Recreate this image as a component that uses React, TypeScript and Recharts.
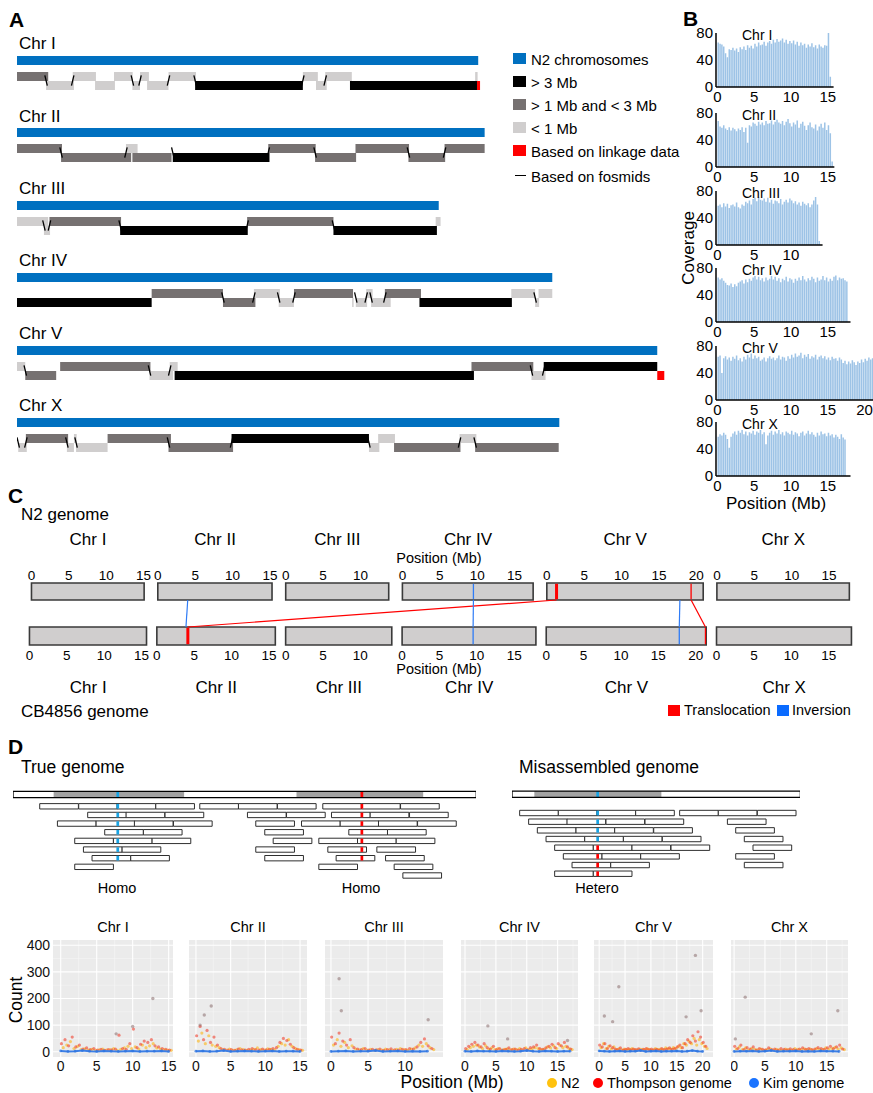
import React from "react";
import {
  Bar,
  BarChart,
  CartesianGrid,
  ComposedChart,
  ReferenceArea,
  ReferenceLine,
  Scatter,
  ScatterChart,
  XAxis,
  YAxis,
} from "recharts";

const FONT = '"Liberation Sans", Arial, Helvetica, sans-serif';

// ---------- A: assembled contigs along the N2 chromosomes ----------
const chrNames = ["Chr I", "Chr II", "Chr III", "Chr IV", "Chr V", "Chr X"];
const n2Lengths = [15.07, 15.28, 13.78, 17.49, 20.92, 17.72];

// start Mb, end Mb, row (0 top / 1 bottom), size class, fosmid joint at start
type Contig = [number, number, number, string, number];
const contigsI: Contig[] = [
  [0, 1.02, 0, "d", 0], [0.95, 1.86, 1, "l", 1], [1.82, 2.58, 0, "l", 1], [2.55, 3.2, 1, "l", 0],
  [3.17, 3.78, 0, "l", 0], [3.77, 4.02, 1, "l", 1], [4.02, 4.31, 0, "l", 1], [4.25, 4.95, 1, "l", 0],
  [4.95, 5.85, 0, "l", 1], [5.82, 9.34, 1, "k", 1], [9.34, 9.83, 0, "l", 1], [9.77, 10.12, 1, "l", 0],
  [10.07, 10.94, 0, "l", 1], [10.88, 15.03, 1, "k", 0], [14.97, 15.05, 0, "l", 0], [15.03, 15.13, 1, "r", 0],
];
const contigsII: Contig[] = [
  [0, 1.47, 0, "d", 0], [1.44, 3.73, 1, "d", 1], [3.56, 3.94, 0, "l", 1], [3.77, 5.05, 1, "d", 0],
  [5.09, 8.25, 1, "k", 1], [8.21, 9.76, 0, "d", 1], [9.74, 11.08, 1, "d", 1], [11.06, 12.81, 0, "d", 0],
  [12.79, 13.99, 1, "d", 1], [13.97, 15.28, 0, "d", 1],
];
const contigsIII: Contig[] = [
  [0, 1.02, 0, "l", 0], [0.88, 1.08, 1, "l", 1], [1.06, 3.4, 0, "d", 1], [3.37, 7.54, 1, "k", 1],
  [7.52, 10.34, 0, "d", 1], [10.34, 13.72, 1, "k", 1], [13.68, 13.84, 0, "l", 0],
];
const contigsIV: Contig[] = [
  [0, 4.4, 1, "k", 0], [4.4, 6.73, 0, "d", 0], [6.73, 7.79, 1, "d", 1], [7.74, 8.59, 0, "l", 1],
  [8.55, 9.05, 1, "l", 1], [9.05, 10.98, 0, "d", 1], [10.95, 11.0, 1, "l", 0], [11.07, 11.44, 1, "l", 1],
  [11.41, 11.62, 0, "l", 1], [11.57, 12.21, 1, "l", 1], [12.02, 13.2, 0, "d", 1], [13.15, 16.17, 1, "k", 0],
  [16.15, 16.93, 0, "l", 0], [16.93, 17.06, 1, "l", 1], [17.04, 17.49, 0, "l", 0],
];
const contigsV: Contig[] = [
  [0, 0.27, 0, "l", 0], [0.27, 1.28, 1, "d", 1], [1.41, 4.36, 0, "d", 0], [4.33, 5.1, 1, "l", 1],
  [4.99, 5.25, 0, "l", 1], [5.15, 14.93, 1, "k", 0], [14.85, 16.87, 0, "d", 0], [16.81, 17.27, 1, "l", 1],
  [17.21, 20.92, 0, "k", 1], [20.92, 21.15, 1, "r", 0],
];
const contigsX: Contig[] = [
  [0.04, 0.32, 1, "l", 1], [0.29, 1.67, 0, "d", 1], [1.63, 1.86, 1, "l", 1], [1.86, 1.95, 0, "l", 0],
  [1.93, 2.96, 1, "l", 1], [2.96, 5.03, 0, "d", 0], [4.95, 7.06, 1, "d", 1], [7.01, 11.5, 0, "k", 1],
  [11.5, 11.84, 1, "l", 1], [11.8, 12.35, 0, "l", 0], [12.32, 14.49, 1, "d", 0], [14.46, 15.01, 0, "l", 1],
  [14.97, 17.7, 1, "d", 1],
];
const contigsByChr = [contigsI, contigsII, contigsIII, contigsIV, contigsV, contigsX];
const contigColors: Record<string, string> = { k: "#000000", d: "#767171", l: "#D0CECE", r: "#FF0000" };

const legendA = [
  { label: "N2 chromosomes", color: "#0070C0" },
  { label: "> 3 Mb", color: "#000000" },
  { label: "> 1 Mb and < 3 Mb", color: "#767171" },
  { label: "< 1 Mb", color: "#D0CECE" },
  { label: "Based on linkage data", color: "#FF0000" },
];

// ---------- B: read coverage, 0.25 Mb bins ----------
const covI = [66,64,63,60,50,44,56,55,58,54,57,52,59,56,60,55,62,58,61,57,64,60,66,62,63,67,61,66,68,64,70,66,71,67,69,72,66,70,64,68,65,69,63,67,61,66,62,64,58,63,60,65,59,62,57,63,60,58,62,61,80,15];
const covII = [68,60,58,62,57,55,59,54,58,56,53,57,55,59,52,58,36,62,60,66,64,61,67,63,66,62,68,64,65,69,63,67,70,66,64,68,62,67,71,65,60,66,63,69,58,64,67,61,55,62,66,59,57,63,54,60,64,58,66,55,62,50,8];
const covIII = [58,60,56,62,57,61,55,59,60,57,63,56,54,60,58,64,62,66,60,68,70,65,71,67,66,69,64,70,63,67,61,66,65,62,68,60,64,67,63,69,66,62,65,60,63,58,64,61,59,62,56,60,66,71,60,6];
const covIV = [66,63,65,61,58,55,54,57,52,56,53,58,60,62,57,63,59,64,61,66,68,63,67,62,65,60,66,62,64,68,63,67,61,65,59,64,62,67,60,65,63,58,64,61,66,62,68,63,60,65,62,67,64,59,66,61,63,68,62,66,60,64,61,67,69,62,66,64,65,62,60];
const covV = [64,66,40,62,65,60,63,58,64,61,66,59,62,57,64,60,67,63,69,61,66,62,64,58,60,63,57,62,65,61,63,59,62,66,60,64,63,58,65,61,67,63,69,64,66,70,62,67,64,68,61,65,63,67,60,64,66,62,65,60,63,59,64,61,62,58,63,60,55,58,53,57,54,59,56,52,57,55,60,56,61,58,63,60,62,65];
const covX = [58,62,60,64,61,55,42,58,63,66,61,67,64,68,62,66,60,65,63,67,61,66,64,68,62,65,47,60,64,67,61,66,63,68,62,65,60,66,64,62,67,61,65,63,59,64,66,60,63,67,62,65,61,58,64,60,66,62,63,59,64,60,62,57,61,58,55,62,57,54];
const coverageByChr = [covI, covII, covIII, covIV, covV, covX];
const covAxisMax = [15.8, 15.9, 14.3, 18.1, 21.2, 18.1];
const covTicks = [[0, 5, 10, 15], [0, 5, 10, 15], [0, 5, 10], [0, 5, 10, 15], [0, 5, 10, 15, 20], [0, 5, 10, 15]];

// ---------- C: structural differences N2 vs CB4856 ----------
const cbLengths = [15.66, 15.85, 14.2, 17.9, 21.4, 18.05];
// N2 chr, N2 pos, CB chr, CB pos, kind
const svLinks: [number, number, number, number, string][] = [
  [1, 4.0, 1, 3.9, "inv"],
  [4, 1.3, 1, 4.15, "trans"],
  [3, 9.5, 3, 9.5, "inv"],
  [4, 17.8, 4, 17.8, "inv"],
  [4, 19.3, 4, 21.3, "trans"],
];
// chr, pos, kind, thick
const n2Marks: [number, number, string, number][] = [[4, 1.3, "trans", 1], [4, 19.3, "trans", 0], [3, 9.5, "inv", 0]];
const cbMarks: [number, number, string, number][] = [[1, 4.15, "trans", 1], [3, 9.5, "inv", 0], [4, 17.8, "inv", 0], [4, 21.3, "trans", 0]];
const svColors: Record<string, string> = { trans: "#FF0000", inv: "#2F7CF6" };

// ---------- D: fosmid reads over true / misassembled genome (kb) ----------
const trueGenomeLen = 479;
const trueGray = [[42, 176.9], [293.1, 424.1]];
const trueReads = [
  [27.6, 67.9, 107.6, 147.6, 193.1, 233.1, 273.4, 320.3, 360.3, 400.7],
  [77.2, 116.9, 157.2, 242.4, 282.8, 329.3, 369.3, 410],
  [45.9, 85.9, 125.5, 165.9, 251, 298.3, 338.3, 377.9, 418.3],
  [94.8, 134.8, 260.3, 347.2, 387.2],
  [63.8, 103.8, 143.8, 269, 316.2, 356.2, 396.2],
  [72.8, 112.8, 251, 325.5, 376.2],
  [81.7, 121.7, 260.3, 334.1, 385.2],
  [63.8, 316.2, 394.1],
  [403.1],
];
// pos, colour key, first row, last row, also on genome bar
const trueMarks: [number, string, number, number, number][] = [[108.3, "b", 0, 6, 1], [360.7, "r", 0, 6, 1]];
const misGenomeLen = 298.3;
const misGray = [[23.1, 154.5]];
const misReads = [
  [7.9, 47.9, 87.9, 127.9, 173.4, 213.4, 253.8],
  [17.2, 56.9, 97.2, 137.6, 222.8, 263.1],
  [26.2, 66.2, 106.2, 146.6, 231.4, 271.7],
  [35.2, 75.2, 115.2, 155.5, 240.3],
  [44.1, 84.1, 124.1, 164.5, 249.3],
  [53.1, 93.1, 133.1, 231.4],
  [62.1, 102.1, 240.3],
  [44.1, 84.1],
];
const misMarks: [number, string, number, number, number][] = [[88.6, "b", 0, 3, 1], [88.6, "r", 4, 7, 0]];
const readLength = 40;
const markColors: Record<string, string> = { b: "#19A3E3", r: "#FF0000" };

// ---------- D: discordant counts per chromosome ----------
const thompsonI = [30,45,22,55,18,25,10,14,8,12,6,9,5,8,7,10,62,12,9,30,85,15,28,40,35,45,22,18,12,9,6];
const n2I = [15,25,38,12,20,8,11,6,9,5,7,10,6,8,12,5,9,14,20,12,18,10,25,15,22,30,14,10,8,6,5];
const kimI = [3,1,2,4,2,1,3,2,1,2,3,1,2,2,3,1];
const outI = [[12.8, 200], [10.0, 95], [7.7, 67]];
const thompsonII = [60,95,45,80,35,55,25,12,9,6,8,5,10,7,6,9,12,8,6,10,7,9,12,15,35,50,42,28,15,9,6];
const n2II = [40,70,30,60,25,20,15,8,6,10,5,7,12,8,5,7,9,14,8,6,11,9,7,20,30,25,45,20,12,8,5];
const kimII = [2,3,1,2,4,1,2,3,2,1,2,3,1,2,2,1];
const outII = [[1.2, 138], [2.2, 172], [0.6, 100]];
const thompsonIII = [55,30,70,40,25,45,15,10,8,12,6,9,7,10,5,8,11,7,6,9,8,12,10,18,35,48,22,12];
const n2III = [25,45,20,35,15,22,10,7,12,6,9,5,8,6,10,7,5,9,12,8,6,10,14,25,20,30,15,8];
const kimIII = [1,2,3,1,2,2,4,1,2,3,1,2,1,2];
const outIII = [[1.1, 274], [1.4, 154], [13.1, 120]];
const thompsonIV = [12,20,28,35,25,18,30,15,10,20,8,12,6,9,14,8,10,6,9,12,7,15,18,25,12,9,14,20,28,15,30,22,35,18,10];
const n2IV = [8,15,20,25,18,12,22,10,14,8,12,6,9,11,7,10,8,12,6,14,9,11,15,12,8,10,18,14,22,12,25,15,20,12,8];
const kimIV = [2,1,3,2,2,1,3,2,1,2,4,2,1,3,2,1,2,2];
const outIV = [[3.7, 97], [6.9, 48], [16.6, 42]];
const thompsonV = [25,18,30,12,22,15,10,8,14,6,9,12,7,10,8,11,6,9,12,8,10,7,9,6,12,8,10,14,9,12,18,25,15,30,45,35,60,40,75,55,35,20];
const n2V = [15,30,12,20,10,18,8,12,6,10,7,9,12,8,6,10,9,7,11,8,6,12,9,10,8,14,12,10,15,12,20,15,30,25,40,30,50,25,45,30,20,12];
const kimV = [3,2,1,2,3,1,2,2,4,1,2,3,1,2,2,3,1,2,4,2,1];
const outV = [[18.6, 362], [3.8, 244], [1.0, 134], [2.6, 113], [16.8, 131], [19.7, 154]];
const thompsonX = [20,12,25,8,15,10,18,6,12,9,7,14,8,10,6,12,9,7,11,8,6,10,14,9,12,8,10,15,12,9,14,20,12,18,25,10];
const n2X = [10,18,8,14,6,12,9,7,10,5,8,11,6,9,7,5,10,8,6,12,9,7,11,8,10,6,12,9,8,14,10,12,16,10,14,8];
const kimX = [1,2,2,3,1,2,4,1,2,2,3,1,2,1,3,2,2,1];
const outX = [[1.8, 205], [16.8, 154], [12.5, 67], [0.2, 48]];
const thompsonByChr = [thompsonI, thompsonII, thompsonIII, thompsonIV, thompsonV, thompsonX];
const n2ByChr = [n2I, n2II, n2III, n2IV, n2V, n2X];
const kimByChr = [kimI, kimII, kimIII, kimIV, kimV, kimX];
const outByChr = [outI, outII, outIII, outIV, outV, outX];
const countDomains = [[-1.07, 15.6], [-1.0, 16.0], [-0.8, 15.1], [-0.65, 18.3], [-1.0, 22.0], [-0.5, 18.45]];
const countTicks = covTicks;
const countYTicks = [0, 100, 200, 300, 400];

// ---------- helpers ----------
type TxtProps = {
  x: number; y: number; size?: number; anchor?: "start" | "middle" | "end";
  bold?: boolean; rotate?: number; children: React.ReactNode;
};
function Txt({ x, y, size = 15, anchor = "start", bold = false, rotate = 0, children }: TxtProps) {
  const tx = anchor === "middle" ? "-50%" : anchor === "end" ? "-100%" : "0";
  return (
    <div
      style={{
        position: "absolute", left: x, top: y, fontSize: size, fontWeight: bold ? 700 : 400,
        lineHeight: 1, whiteSpace: "nowrap", color: "#000",
        transform: `translate(${tx}, -50%)${rotate ? ` rotate(${rotate}deg)` : ""}`,
      }}
    >
      {children}
    </div>
  );
}

function Abs({ x, y, w, h, children }: { x: number; y: number; w: number; h: number; children: React.ReactNode }) {
  return <div style={{ position: "absolute", left: x, top: y, width: w, height: h }}>{children}</div>;
}

// ---------- panel A ----------
const A_MAX = 21.5;
const A_W = 658;
function ContigTrack({ k }: { k: number }) {
  const contigs = contigsByChr[k];
  const top = 56 + 72.4 * k;
  return (
    <Abs x={17} y={top} w={A_W} h={36}>
      <ComposedChart width={A_W} height={36} margin={{ top: 0, right: 0, bottom: 0, left: 0 }}>
        <XAxis type="number" dataKey="x" domain={[0, A_MAX]} hide allowDataOverflow />
        <YAxis type="number" domain={[0, 4]} reversed hide allowDataOverflow />
        <ReferenceArea x1={0} x2={n2Lengths[k]} y1={0} y2={1} fill="#0070C0" fillOpacity={1} />
        {contigs.map(([s, e, row, cls], i) => (
          <ReferenceArea key={i} x1={s} x2={e} y1={1.78 + row} y2={2.78 + row} fill={contigColors[cls]} fillOpacity={1} />
        ))}
        {contigs
          .filter((c) => c[4])
          .map(([s, , row], i) => (
            <ReferenceLine
              key={"f" + i}
              segment={
                row
                  ? [{ x: s - 0.04, y: 2.15 }, { x: s + 0.04, y: 3.3 }]
                  : [{ x: s - 0.04, y: 3.3 }, { x: s + 0.04, y: 2.15 }]
              }
              stroke="#000"
              strokeWidth={1.3}
            />
          ))}
      </ComposedChart>
    </Abs>
  );
}

// ---------- panel B ----------
const B_SCALE = 7.35;
const B_X0 = -0.2;
const bTops = [33, 112.5, 191, 268, 345.5, 422];
function CoveragePlot({ k }: { k: number }) {
  const data = coverageByChr[k].map((v, i) => ({ pos: i * 0.25 + 0.125, cov: v }));
  const plotW = (covAxisMax[k] - B_X0) * B_SCALE;
  const w = 30 + plotW + 2;
  return (
    <Abs x={686} y={bTops[k] - 8} w={w} h={82}>
      <BarChart width={w} height={82} data={data} margin={{ top: 8, right: 2, bottom: 0, left: 0 }}>
        <XAxis
          dataKey="pos" type="number" domain={[B_X0, covAxisMax[k]]} ticks={covTicks[k]} interval={0}
          allowDataOverflow tickLine={false} tickSize={0} tickMargin={4.5} height={20}
          axisLine={{ stroke: "#000", strokeWidth: 1.5 }}
          tick={{ fontSize: 15, fill: "#000" }}
        />
        <YAxis
          type="number" domain={[0, 80]} ticks={[0, 40, 80]} interval={0} width={30}
          tickLine={false} tickSize={0} tickMargin={3}
          axisLine={{ stroke: "#000", strokeWidth: 1.5 }}
          tick={{ fontSize: 15, fill: "#000" }}
        />
        <Bar dataKey="cov" fill="#9DC3E6" barSize={1.5} isAnimationActive={false} />
      </BarChart>
    </Abs>
  );
}

// ---------- panel C ----------
const C_DOM: [number, number] = [-1, 110.5];
const C_LEFT = 24.2;
const C_W = 833.5;
function cumOffsets(lengths: number[], start: number, gap: number) {
  const out: number[] = [];
  let p = start;
  lengths.forEach((l) => {
    out.push(p);
    p += l + gap;
  });
  return out;
}
const n2Off = cumOffsets(n2Lengths, 0, 1.83);
const cbOff = cumOffsets(cbLengths, -0.27, 1.38);
function axisTicks(offsets: number[], lengths: number[]) {
  const t: { v: number; label: string }[] = [];
  offsets.forEach((o, i) => {
    [0, 5, 10, 15, 20].forEach((m) => {
      if (m <= lengths[i] + 0.01) t.push({ v: +(o + m).toFixed(3), label: String(m) });
    });
  });
  return t;
}
const n2Ticks = axisTicks(n2Off, n2Lengths);
const cbTicks = axisTicks(cbOff, cbLengths);
const cPx = (g: number) => C_LEFT + ((g - C_DOM[0]) * C_W) / (C_DOM[1] - C_DOM[0]);

function GenomeCompare() {
  const topLabel = new Map(n2Ticks.map((t) => [t.v.toFixed(3), t.label]));
  const botLabel = new Map(cbTicks.map((t) => [t.v.toFixed(3), t.label]));
  return (
    <Abs x={C_LEFT} y={563} w={C_W} h={102}>
      <ComposedChart width={C_W} height={102} margin={{ top: 0, right: 0, bottom: 0, left: 0 }}>
        <XAxis
          xAxisId="t" dataKey="x" orientation="top" type="number" domain={C_DOM} allowDataOverflow
          ticks={n2Ticks.map((t) => t.v)} interval={0} height={20}
          tickFormatter={(v: number) => topLabel.get(Number(v).toFixed(3)) ?? ""}
          tickLine={false} axisLine={false} tickSize={0} tickMargin={3}
          tick={{ fontSize: 13.5, fill: "#000" }}
        />
        <XAxis
          xAxisId="b" dataKey="x" orientation="bottom" type="number" domain={C_DOM} allowDataOverflow
          ticks={cbTicks.map((t) => t.v)} interval={0} height={20}
          tickFormatter={(v: number) => botLabel.get(Number(v).toFixed(3)) ?? ""}
          tickLine={false} axisLine={false} tickSize={0} tickMargin={5}
          tick={{ fontSize: 13.5, fill: "#000" }}
        />
        <YAxis dataKey="y" type="number" domain={[0, 62]} reversed hide allowDataOverflow />
        {n2Off.map((o, i) => (
          <ReferenceArea key={"n" + i} xAxisId="t" x1={o} x2={o + n2Lengths[i]} y1={0} y2={17}
            fill="#D0CECE" fillOpacity={1} stroke="#3A3A3A" strokeWidth={1.6} />
        ))}
        {cbOff.map((o, i) => (
          <ReferenceArea key={"c" + i} xAxisId="b" x1={o} x2={o + cbLengths[i]} y1={44} y2={62}
            fill="#D0CECE" fillOpacity={1} stroke="#3A3A3A" strokeWidth={1.6} />
        ))}
        {svLinks.map(([tc, tp, bc, bp, kind], i) => (
          <ReferenceLine key={"l" + i} xAxisId="t"
            segment={[{ x: n2Off[tc] + tp, y: 17 }, { x: cbOff[bc] + bp, y: 44 }]}
            stroke={svColors[kind]} strokeWidth={1.2} />
        ))}
        {n2Marks.map(([c, p, kind, thick], i) => (
          <ReferenceLine key={"tm" + i} xAxisId="t"
            segment={[{ x: n2Off[c] + p, y: 0.8 }, { x: n2Off[c] + p, y: 16.2 }]}
            stroke={svColors[kind]} strokeWidth={thick ? 3 : 1.3} />
        ))}
        {cbMarks.map(([c, p, kind, thick], i) => (
          <ReferenceLine key={"bm" + i} xAxisId="b"
            segment={[{ x: cbOff[c] + p, y: 44.8 }, { x: cbOff[c] + p, y: 61.2 }]}
            stroke={svColors[kind]} strokeWidth={thick ? 3 : 1.3} />
        ))}
      </ComposedChart>
    </Abs>
  );
}

// ---------- panel D schematic ----------
type ReadsProps = {
  x: number; y: number; w: number; h: number; len: number; yDom: [number, number]; barRow: number;
  gray: number[][]; reads: number[][]; marks: [number, string, number, number, number][];
};
function ReadsDiagram({ x, y, w, h, len, yDom, barRow, gray, reads, marks }: ReadsProps) {
  return (
    <Abs x={x} y={y} w={w} h={h}>
      <ComposedChart width={w} height={h} margin={{ top: 0, right: 0, bottom: 0, left: 0 }}>
        <XAxis type="number" dataKey="x" domain={[0, len]} hide allowDataOverflow />
        <YAxis type="number" domain={yDom} reversed hide allowDataOverflow />
        <ReferenceArea x1={0} x2={len} y1={barRow - 0.36} y2={barRow + 0.36} fill="#FFFFFF" fillOpacity={1} />
        {gray.map(([s, e], i) => (
          <ReferenceArea key={"g" + i} x1={s} x2={e} y1={barRow - 0.36} y2={barRow + 0.36} fill="#A3A3A3" fillOpacity={1} />
        ))}
        {marks.filter((m) => m[4]).map(([p, c], i) => (
          <ReferenceArea key={"bm" + i} x1={p - 1.4} x2={p + 1.4} y1={barRow - 0.36} y2={barRow + 0.36} fill={markColors[c]} fillOpacity={1} />
        ))}
        <ReferenceArea x1={0} x2={len} y1={barRow - 0.36} y2={barRow + 0.36} fill="none" stroke="#000" strokeWidth={1.3} />
        {reads.map((row, r) =>
          row.map((s, i) => (
            <ReferenceArea key={`r${r}-${i}`} x1={s} x2={s + readLength} y1={r - 0.31} y2={r + 0.31}
              fill="#FFFFFF" fillOpacity={1} stroke="#2E2E2E" strokeWidth={1} />
          ))
        )}
        {marks.map(([p, c, r0, r1], i) =>
          reads.map((_, r) =>
            r >= r0 && r <= r1 ? (
              <ReferenceArea key={`m${i}-${r}`} x1={p - 1.4} x2={p + 1.4} y1={r - 0.27} y2={r + 0.27}
                fill={markColors[c]} fillOpacity={1} />
            ) : null
          )
        )}
      </ComposedChart>
    </Abs>
  );
}

// ---------- panel D counts ----------
const dLefts = [53, 189, 325, 461, 594, 731];
const dWidths = [120, 118, 118, 117, 119, 117];
const D_TOP = 940;
const D_H = 117;
const D_PAD = 9;
const dot = (color: string, r: number, op: number) => (p: any) =>
  <circle cx={p.cx} cy={p.cy} r={r} fill={color} fillOpacity={op} />;

function CountPlot({ k }: { k: number }) {
  const yw = k === 0 ? 36 : 0;
  const w = dWidths[k] + yw + D_PAD;
  const h = D_H + 20 + D_PAD;
  const [lo, hi] = countDomains[k];
  const mid = (a: number[]) => a.slice(0, -1).map((v, i) => (v + a[i + 1]) / 2);
  const xMajor = countTicks[k];
  const xMinor = mid(xMajor).concat([xMajor[xMajor.length - 1] + 2.5]).filter((v) => v < hi);
  const thompson = thompsonByChr[k].map((v, i) => ({ x: i * 0.5 + 0.1, y: v }));
  const n2 = n2ByChr[k].map((v, i) => ({ x: i * 0.5 + 0.35, y: v }));
  const kim = kimByChr[k].map((v, i) => ({ x: i, y: v }));
  const out = outByChr[k].map(([x, y]) => ({ x, y }));
  return (
    <Abs x={dLefts[k] - yw} y={D_TOP - D_PAD} w={w} h={h}>
      <ScatterChart width={w} height={h} margin={{ top: D_PAD, right: D_PAD, bottom: 0, left: 0 }}>
        <CartesianGrid fill="#EBEBEB" fillOpacity={1} stroke="#F6F6F6" strokeWidth={0.6}
          horizontalValues={[50, 150, 250, 350]} verticalValues={xMinor} />
        <CartesianGrid fill="none" stroke="#FFFFFF" strokeWidth={1.1}
          horizontalValues={countYTicks} verticalValues={xMajor} />
        <XAxis type="number" dataKey="x" domain={[lo, hi]} ticks={xMajor} interval={0} allowDataOverflow
          tickLine={false} axisLine={false} tickSize={0} tickMargin={4} height={20}
          tick={{ fontSize: 14, fill: "#111" }} />
        <YAxis type="number" dataKey="y" domain={[-20, 420]} ticks={countYTicks} interval={0} allowDataOverflow
          hide={k !== 0} width={yw} tickLine={false} axisLine={false} tickSize={0} tickMargin={3}
          tick={{ fontSize: 14, fill: "#111" }} />
        <Scatter name="N2" data={n2} shape={dot("#FFB000", 1.6, 0.55)} isAnimationActive={false} />
        <Scatter name="Thompson genome" data={thompson} shape={dot("#F0321E", 1.6, 0.55)} isAnimationActive={false} />
        <Scatter name="outliers" data={out} shape={dot("#8A6E6E", 1.7, 0.55)} isAnimationActive={false} />
        <Scatter name="Kim genome" data={kim} shape={dot("#2F76E0", 1.4, 0.8)}
          line={{ stroke: "#3C7FE6", strokeWidth: 2 }} isAnimationActive={false} />
      </ScatterChart>
    </Abs>
  );
}

export default function App() {
  return (
    <div
      style={{
        position: "absolute", left: 0, top: 0, width: 873, height: 1093, overflow: "hidden",
        background: "#fff", fontFamily: FONT, color: "#000",
      }}
    >
      {/* A */}
      <Txt x={9} y={19} size={21} bold>A</Txt>
      {chrNames.map((c, k) => (
        <Txt key={c} x={19} y={43.3 + 72.3 * k} size={17}>{c}</Txt>
      ))}
      {chrNames.map((_, k) => <ContigTrack key={k} k={k} />)}
      {legendA.map((it, i) => (
        <React.Fragment key={it.label}>
          <div style={{ position: "absolute", left: 513, top: 53.2 + 23 * i, width: 13, height: 11, background: it.color }} />
          <Txt x={531} y={58.7 + 23 * i} size={15}>{it.label}</Txt>
        </React.Fragment>
      ))}
      <div style={{ position: "absolute", left: 515, top: 174.8, width: 11, height: 1.5, background: "#000" }} />
      <Txt x={531} y={175.5} size={15}>Based on fosmids</Txt>

      {/* B */}
      <Txt x={683} y={17.5} size={21} bold>B</Txt>
      {chrNames.map((_, k) => <CoveragePlot key={k} k={k} />)}
      {chrNames.map((c, k) => (
        <Txt key={"bt" + c} x={742} y={bTops[k] + 2} size={14}>{c}</Txt>
      ))}
      <Txt x={688} y={248} size={17} anchor="middle" rotate={-90}>Coverage</Txt>
      <Txt x={776} y={503} size={17} anchor="middle">Position (Mb)</Txt>

      {/* C */}
      <Txt x={8} y={495} size={21} bold>C</Txt>
      <Txt x={21} y={514} size={17}>N2 genome</Txt>
      {chrNames.map((c, k) => (
        <Txt key={"ct" + c} x={cPx(n2Off[k] + n2Lengths[k] / 2)} y={539} size={17} anchor="middle">{c}</Txt>
      ))}
      <Txt x={439} y={558} size={14.5} anchor="middle">Position (Mb)</Txt>
      <GenomeCompare />
      <Txt x={439} y={669} size={14.5} anchor="middle">Position (Mb)</Txt>
      {chrNames.map((c, k) => (
        <Txt key={"cb" + c} x={cPx(cbOff[k] + cbLengths[k] / 2)} y={687} size={17} anchor="middle">{c}</Txt>
      ))}
      <Txt x={21} y={711} size={17}>CB4856 genome</Txt>
      <div style={{ position: "absolute", left: 668, top: 704.5, width: 12, height: 11, background: "#FF0000" }} />
      <Txt x={684} y={710} size={14.5}>Translocation</Txt>
      <div style={{ position: "absolute", left: 777, top: 704.5, width: 12, height: 11, background: "#0A6BFF" }} />
      <Txt x={792} y={710} size={14.5}>Inversion</Txt>

      {/* D */}
      <Txt x={8} y={745.5} size={21} bold>D</Txt>
      <Txt x={21} y={768} size={17.5}>True genome</Txt>
      <Txt x={519} y={768} size={17.5}>Misassembled genome</Txt>
      <ReadsDiagram x={12.7} y={789} w={463.3} h={95.15} len={trueGenomeLen} yDom={[-2, 9]} barRow={-1.36}
        gray={trueGray} reads={trueReads} marks={trueMarks} />
      <ReadsDiagram x={511.7} y={787.3} w={288.4} h={95.4} len={misGenomeLen} yDom={[-3, 8]} barRow={-2.17}
        gray={misGray} reads={misReads} marks={misMarks} />
      <Txt x={117} y={888} size={14.5} anchor="middle">Homo</Txt>
      <Txt x={361} y={888} size={14.5} anchor="middle">Homo</Txt>
      <Txt x={597} y={888} size={14.5} anchor="middle">Hetero</Txt>

      {chrNames.map((c, k) => (
        <Txt key={"dt" + c} x={dLefts[k] + dWidths[k] / 2} y={927} size={14.5} anchor="middle">{c}</Txt>
      ))}
      {chrNames.map((_, k) => <CountPlot key={k} k={k} />)}
      <Txt x={17} y={1000} size={17.5} anchor="middle" rotate={-90}>Count</Txt>
      <Txt x={452} y={1082.5} size={17.5} anchor="middle">Position (Mb)</Txt>
      {[
        { label: "N2", color: "#FFC20E", x: 552 },
        { label: "Thompson genome", color: "#FF0000", x: 598 },
        { label: "Kim genome", color: "#1A73FF", x: 754 },
      ].map((it) => (
        <React.Fragment key={it.label}>
          <div style={{ position: "absolute", left: it.x - 5, top: 1078, width: 10, height: 10, borderRadius: 5, background: it.color }} />
          <Txt x={it.x + 9} y={1083} size={14.5}>{it.label}</Txt>
        </React.Fragment>
      ))}
    </div>
  );
}
